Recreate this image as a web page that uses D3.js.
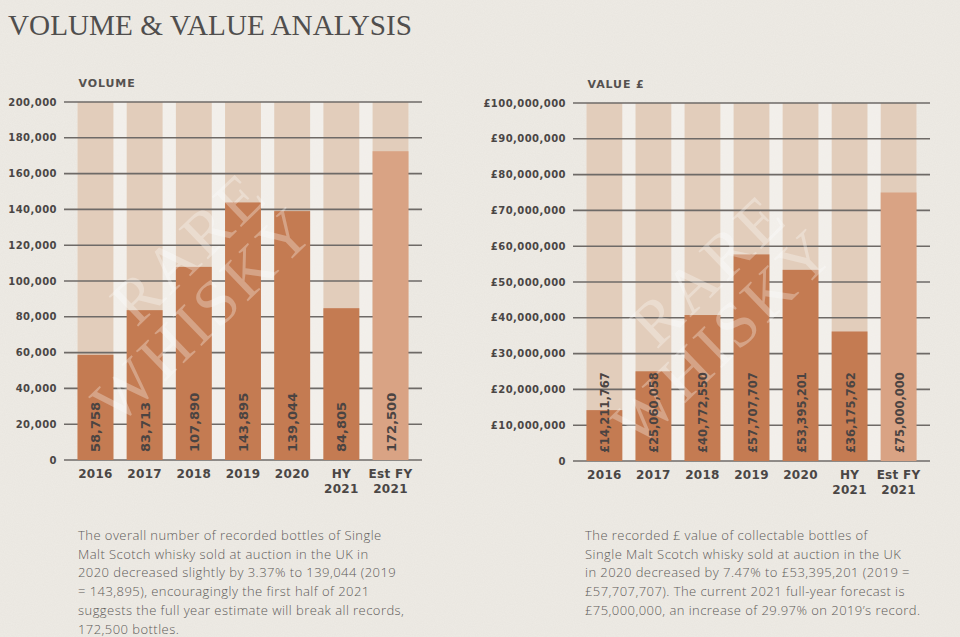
<!DOCTYPE html>
<html lang="en">
<head>
<meta charset="utf-8">
<script src="https://d3js.org/d3.v7.min.js"></script>
<style>
  body { margin: 0; background: #eeebe5; }
  svg { display: block; }
</style>
</head>
<body>
<script type="text/javascript">

    // data
    let categories = ["2016", "2017", "2018", "2019", "2020", "HY 2021", "Est FY 2021"];
    let volume = [58758, 83713, 107890, 143895, 139044, 84805, 172500];
    let value = [14211767, 25060058, 40772550, 57707707, 53395201, 36175762, 75000000];
    let volumeTicks = [0, 20000, 40000, 60000, 80000, 100000, 120000, 140000, 160000, 180000, 200000];
    let valueTicks = [0, 10000000, 20000000, 30000000, 40000000, 50000000, 60000000, 70000000, 80000000, 90000000, 100000000];
    let volumeText = [
        "The overall number of recorded bottles of Single",
        "Malt Scotch whisky sold at auction in the UK in",
        "2020 decreased slightly by 3.37% to 139,044 (2019",
        "= 143,895), encouragingly the first half of 2021",
        "suggests the full year estimate will break all records,",
        "172,500 bottles."
    ];
    let valueText = [
        "The recorded \u00a3 value of collectable bottles of",
        "Single Malt Scotch whisky sold at auction in the UK",
        "in 2020 decreased by 7.47% to \u00a353,395,201 (2019 =",
        "\u00a357,707,707). The current 2021 full-year forecast is",
        "\u00a375,000,000, an increase of 29.97% on 2019\u2019s record."
    ];

    let w = 960;
    let h = 637;

    let svg = d3.select("body").append("svg")
                .attr("width", w)
                .attr("height", h);

    // paper texture
    let defs = svg.append("defs");
    let paper = defs.append("filter").attr("id", "paper")
        .attr("x", 0).attr("y", 0).attr("width", "100%").attr("height", "100%");
    paper.append("feTurbulence").attr("type", "fractalNoise")
        .attr("baseFrequency", 0.9).attr("numOctaves", 2).attr("seed", 3);
    paper.append("feColorMatrix").attr("type", "matrix")
        .attr("values", "0 0 0 0 0.45  0 0 0 0 0.42  0 0 0 0 0.38  0 0 0 0.09 0");

    svg.append("rect").attr("width", w).attr("height", h).attr("fill", "#eeebe5");
    svg.append("rect").attr("width", w).attr("height", h).attr("filter", "url(#paper)");

    svg.append("text")
        .attr("x", 8)
        .attr("y", 35)
        .attr("textLength", 404)
        .attr("lengthAdjust", "spacingAndGlyphs")
        .attr("font-family", "'Liberation Serif', 'DejaVu Serif', serif")
        .attr("font-size", 29)
        .attr("fill", "#504e4d")
        .text("VOLUME & VALUE ANALYSIS");

    let fmt = d3.format(",");

    function drawChart(opt) {
        let g = svg.append("g");

        let x = d3.scaleBand()
            .domain(categories)
            .range([opt.left, opt.right])
            .paddingInner(0.27)
            .paddingOuter(0.275);

        let y = d3.scaleLinear()
            .domain([0, opt.max])
            .range([opt.bottom, opt.top]);

        // whiter strip behind bars
        g.append("rect")
            .attr("x", x(categories[0]))
            .attr("y", opt.top)
            .attr("width", x(categories[categories.length - 1]) + x.bandwidth() - x(categories[0]))
            .attr("height", opt.bottom - opt.top)
            .attr("fill", "#f6f4f0")
            .attr("opacity", 0.6);

        // full height pale bars
        g.selectAll(".bg")
            .data(categories)
            .join("rect")
                .attr("class", "bg")
                .attr("x", function(d) { return x(d); })
                .attr("y", opt.top)
                .attr("width", x.bandwidth())
                .attr("height", opt.bottom - opt.top)
                .attr("fill", "#e2cdbb");

        // gridlines
        g.selectAll(".grid")
            .data(opt.ticks)
            .join("line")
                .attr("class", "grid")
                .attr("x1", opt.left)
                .attr("x2", opt.right)
                .attr("y1", function(d) { return y(d); })
                .attr("y2", function(d) { return y(d); })
                .attr("stroke", "#6e6a67")
                .attr("stroke-width", 1.6);

        // tick labels
        g.selectAll(".tick")
            .data(opt.ticks)
            .join("text")
                .attr("class", "tick")
                .attr("x", opt.left - 7)
                .attr("y", function(d) { return y(d) + 3.6; })
                .attr("text-anchor", "end")
                .attr("font-family", "'DejaVu Sans', sans-serif")
                .attr("font-weight", "bold")
                .attr("font-size", 10)
                .attr("letter-spacing", 0.45)
                .attr("fill", "#4a4645")
                .text(function(d) { return d === 0 ? "0" : opt.prefix + fmt(d); });

        // value bars
        g.selectAll(".bar")
            .data(opt.values)
            .join("rect")
                .attr("class", "bar")
                .attr("x", function(d, i) { return x(categories[i]); })
                .attr("y", function(d) { return y(d); })
                .attr("width", x.bandwidth())
                .attr("height", function(d) { return opt.bottom - y(d); })
                .attr("fill", function(d, i) {
                    return i === categories.length - 1 ? "#d9a384" : "#c47b52";
                });

        // watermark
        let wm = g.append("g")
            .attr("transform", "translate(" + opt.wm[0] + "," + opt.wm[1] + ") rotate(-44)")
            .attr("font-family", "'Liberation Serif', 'DejaVu Serif', serif")
            .attr("font-size", 64)
            .attr("letter-spacing", 4)
            .attr("text-anchor", "middle")
            .attr("fill", "#ffffff")
            .attr("opacity", 0.3);
        wm.append("text").attr("x", 36).attr("y", -58).text("RARE");
        wm.append("text").attr("x", 0).attr("y", 0).text("WHISKY");

        // rotated labels inside bars
        g.selectAll(".lbl")
            .data(opt.values)
            .join("text")
                .attr("class", "lbl")
                .attr("transform", function(d, i) {
                    let cx = x(categories[i]) + x.bandwidth() / 2 + 5;
                    return "translate(" + cx + "," + (opt.bottom - 8) + ") rotate(-90)";
                })
                .attr("font-family", "'DejaVu Sans', sans-serif")
                .attr("font-weight", "bold")
                .attr("font-size", opt.labelSize)
                .attr("letter-spacing", opt.labelSpacing)
                .attr("fill", "#4b4442")
                .text(function(d) { return opt.prefix + fmt(d); });

        // category labels
        let cat = g.selectAll(".cat")
            .data(categories)
            .join("text")
                .attr("class", "cat")
                .attr("x", function(d) { return x(d) + x.bandwidth() / 2; })
                .attr("y", opt.bottom + 18)
                .attr("text-anchor", "middle")
                .attr("font-family", "'DejaVu Sans', sans-serif")
                .attr("font-weight", "bold")
                .attr("font-size", 12)
                .attr("letter-spacing", 0.3)
                .attr("fill", "#4a4645");
        cat.each(function(d) {
            let parts = d.indexOf("2021") > 0 ? [d.replace(" 2021", ""), "2021"] : [d];
            let t = d3.select(this);
            parts.forEach(function(p, k) {
                t.append("tspan")
                    .attr("x", t.attr("x"))
                    .attr("dy", k === 0 ? 0 : 15)
                    .text(p);
            });
        });

        // section title
        g.append("text")
            .attr("x", x(categories[0]) + 1)
            .attr("y", opt.top - 15)
            .attr("font-family", "'DejaVu Sans', sans-serif")
            .attr("font-weight", "bold")
            .attr("font-size", 11)
            .attr("letter-spacing", 0.9)
            .attr("fill", "#55514f")
            .text(opt.title);

        // description text
        svg.append("g").selectAll("text")
            .data(opt.note)
            .join("text")
                .attr("x", opt.noteX)
                .attr("y", function(d, i) { return 540 + i * 18.7; })
                .attr("font-family", "'Open Sans', Lato, sans-serif")
                .attr("font-weight", 300)
                .attr("font-size", 13)
                .attr("letter-spacing", 0.45)
                .attr("fill", "#5e5b59")
                .text(function(d) { return d; });
    }

    drawChart({
        left: 64, right: 422, top: 102, bottom: 460,
        max: 200000, ticks: volumeTicks, values: volume,
        prefix: "", title: "VOLUME",
        labelSize: 13, labelSpacing: 0,
        wm: [218, 330], note: volumeText, noteX: 78
    });

    drawChart({
        left: 573, right: 930, top: 103, bottom: 461,
        max: 100000000, ticks: valueTicks, values: value,
        prefix: "\u00a3", title: "VALUE \u00a3",
        labelSize: 11.5, labelSpacing: 0,
        wm: [738, 352], note: valueText, noteX: 585
    });

</script>
</body>
</html>
